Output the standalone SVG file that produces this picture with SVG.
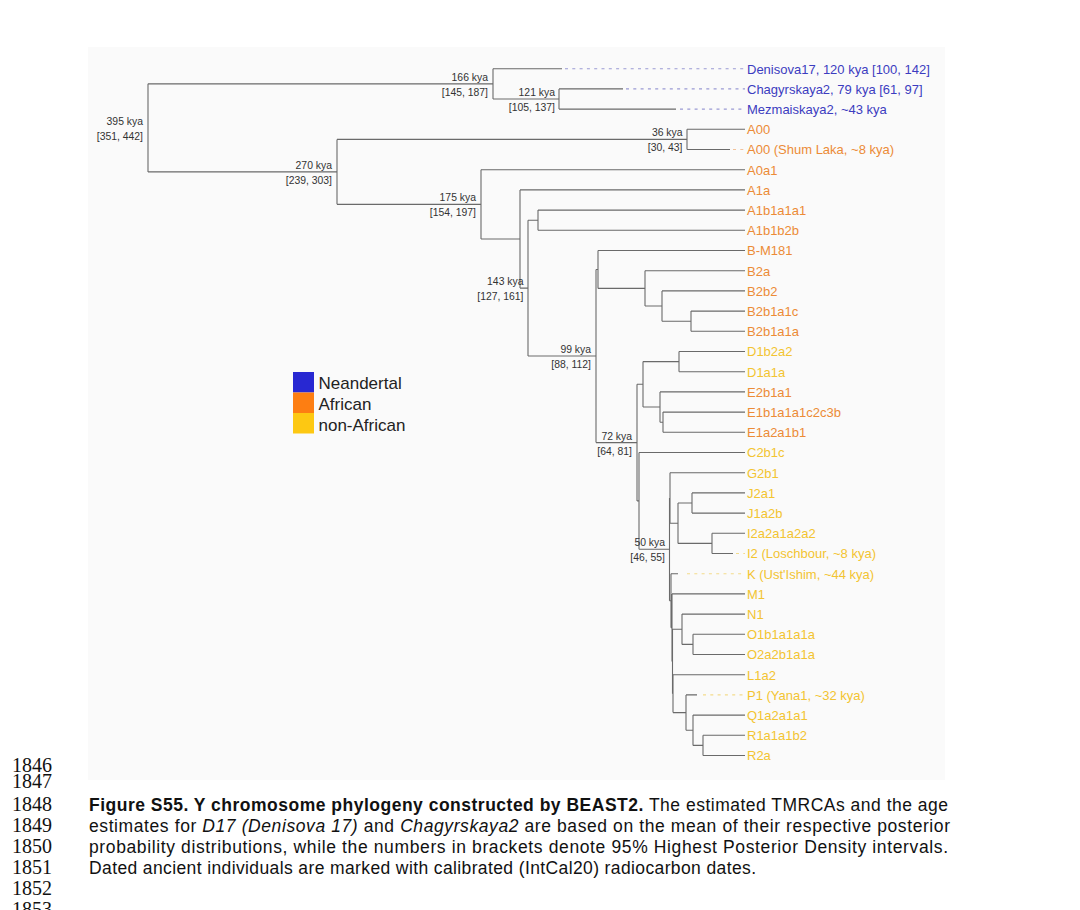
<svg xmlns="http://www.w3.org/2000/svg" width="1080" height="910" viewBox="0 0 1080 910">
<style>
.br{fill:none;stroke:#6a6a6a;stroke-width:1.1}
.dn{fill:none;stroke:#9a9ad4;stroke-width:1.1;stroke-dasharray:3 4.3}
.da{fill:none;stroke:#f2c29a;stroke-width:1.1;stroke-dasharray:3 4.3}
.dy{fill:none;stroke:#f3dc8c;stroke-width:1.1;stroke-dasharray:3 4.3}
.nl{font-family:"Liberation Sans",Arial,sans-serif;font-size:10.4px;fill:#333;text-anchor:end}
.tl{font-family:"Liberation Sans",Arial,sans-serif;font-size:13px}
.ne{fill:#3c3cc0}.af{fill:#ec8b36}.na{fill:#f3c431}
.lg{font-family:"Liberation Sans",Arial,sans-serif;font-size:17px;fill:#222}
.ln{font-family:"Liberation Serif","Times New Roman",serif;font-size:20px;fill:#111}
.cap{font-family:"Liberation Sans",Arial,sans-serif;font-size:17.5px;fill:#111}
</style>
<rect x="0" y="0" width="1080" height="910" fill="#ffffff"/>
<rect x="88" y="47" width="857" height="733" fill="#fafafa"/>

<g id="connectors">
<path class="br" d="M148,83.85V171.9 M148,83.85H493 M148,171.9H337
M493,68.7V99 M493,99H559 M559,88.9V109.1
M337,139.4V204.35 M337,139.4H687 M687,129.3V149.5 M337,204.35H481
M481,169.7V239 M481,239H520 M520,189.9V288.1 M520,288.1H528
M528,220.2V356 M528,220.2H538 M538,210.1V230.3 M528,356H596
M596,269.45V442.6 M596,269.45H598 M598,250.5V288.4 M598,288.4H645
M645,270.7V306.05 M645,306.05H662 M662,290.9V321.2 M662,321.2H691 M691,311.1V331.3
M596,442.6H637 M637,384.3V500.9 M637,384.3H643 M643,361.6V407.05
M643,361.6H679 M679,351.5V371.7 M643,407.05H660 M660,391.9V422.2 M660,422.2H663 M663,412.1V432.3
M637,500.9H639 M639,452.5V549.3 M639,549.3H669.5 M669.5,497.95V600.7
M669.5,497.95H670 M670,472.7V523.2 M670,523.2H678 M678,503V543.4
M678,503H692 M692,492.9V513.1 M678,543.4H712 M712,533.3V553.5
M669.5,600.7H671 M671,573.7V627.7 M671,627.7H672 M672,593.9V661.45
M672,661.45H672.5 M672.5,629.25V693.65 M672.5,629.25H682 M682,614.1V644.4
M682,644.4H693 M693,634.3V654.5 M672.5,693.65H673 M673,674.7V712.6
M673,712.6H686 M686,694.9V730.25 M686,730.25H693 M693,715.1V745.4
M693,745.4H703 M703,735.3V755.5"/>
<path class="br" d="M493,68.7H562 M559,88.9H623 M559,109.1H676
M687,129.3H745 M687,149.5H730 M481,169.7H745 M520,189.9H745
M538,210.1H745 M538,230.3H745 M598,250.5H745 M645,270.7H745
M662,290.9H745 M691,311.1H745 M691,331.3H745 M679,351.5H745
M679,371.7H745 M660,391.9H745 M663,412.1H745 M663,432.3H745
M639,452.5H745 M670,472.7H745 M692,492.9H745 M692,513.1H745
M712,533.3H745 M712,553.5H733 M671,573.7H678 M672,593.9H745
M682,614.1H745 M693,634.3H745 M693,654.5H745 M673,674.7H745
M686,694.9H697 M693,715.1H745 M703,735.3H745 M703,755.5H745"/>
<path class="dn" d="M565,68.7H745 M626,88.9H745 M680,109.1H745"/>
<path class="da" d="M733,149.5H745"/>
<path class="dy" d="M736,553.5H745 M687,573.7H745 M703,694.9H745"/>
</g>

<g id="node-labels">
<g id="n395"><text class="nl" x="143" y="124.9">395 kya</text><text class="nl" x="143" y="139.9">[351, 442]</text></g>
<g id="n166"><text class="nl" x="488" y="80.8">166 kya</text><text class="nl" x="488" y="95.8">[145, 187]</text></g>
<g id="n121"><text class="nl" x="555" y="96">121 kya</text><text class="nl" x="555" y="111">[105, 137]</text></g>
<g id="n36"><text class="nl" x="682.5" y="136.4">36 kya</text><text class="nl" x="682.5" y="151.4">[30, 43]</text></g>
<g id="n270"><text class="nl" x="332" y="168.9">270 kya</text><text class="nl" x="332" y="183.9">[239, 303]</text></g>
<g id="n175"><text class="nl" x="476" y="201.3">175 kya</text><text class="nl" x="476" y="216.3">[154, 197]</text></g>
<g id="n143"><text class="nl" x="523.5" y="285">143 kya</text><text class="nl" x="523.5" y="300">[127, 161]</text></g>
<g id="n99"><text class="nl" x="591" y="353">99 kya</text><text class="nl" x="591" y="368">[88, 112]</text></g>
<g id="n72"><text class="nl" x="632" y="439.6">72 kya</text><text class="nl" x="632" y="454.6">[64, 81]</text></g>
<g id="n50"><text class="nl" x="665" y="546.3">50 kya</text><text class="nl" x="665" y="561.3">[46, 55]</text></g>
</g>

<g id="tips">
<g id="t-denisova17"><text class="tl ne" x="747" y="73.5">Denisova17, 120 kya [100, 142]</text></g>
<g id="t-chagyrskaya2"><text class="tl ne" x="747" y="93.7">Chagyrskaya2, 79 kya [61, 97]</text></g>
<g id="t-mezmaiskaya2"><text class="tl ne" x="747" y="113.9">Mezmaiskaya2, ~43 kya</text></g>
<g id="t-a00"><text class="tl af" x="747" y="134.1">A00</text></g>
<g id="t-a00-shumlaka"><text class="tl af" x="747" y="154.3">A00 (Shum Laka, ~8 kya)</text></g>
<g id="t-a0a1"><text class="tl af" x="747" y="174.5">A0a1</text></g>
<g id="t-a1a"><text class="tl af" x="747" y="194.7">A1a</text></g>
<g id="t-a1b1a1a1"><text class="tl af" x="747" y="214.9">A1b1a1a1</text></g>
<g id="t-a1b1b2b"><text class="tl af" x="747" y="235.1">A1b1b2b</text></g>
<g id="t-bm181"><text class="tl af" x="747" y="255.3">B-M181</text></g>
<g id="t-b2a"><text class="tl af" x="747" y="275.5">B2a</text></g>
<g id="t-b2b2"><text class="tl af" x="747" y="295.7">B2b2</text></g>
<g id="t-b2b1a1c"><text class="tl af" x="747" y="315.9">B2b1a1c</text></g>
<g id="t-b2b1a1a"><text class="tl af" x="747" y="336.1">B2b1a1a</text></g>
<g id="t-d1b2a2"><text class="tl na" x="747" y="356.3">D1b2a2</text></g>
<g id="t-d1a1a"><text class="tl na" x="747" y="376.5">D1a1a</text></g>
<g id="t-e2b1a1"><text class="tl af" x="747" y="396.7">E2b1a1</text></g>
<g id="t-e1b1a1a1c2c3b"><text class="tl af" x="747" y="416.9">E1b1a1a1c2c3b</text></g>
<g id="t-e1a2a1b1"><text class="tl af" x="747" y="437.1">E1a2a1b1</text></g>
<g id="t-c2b1c"><text class="tl na" x="747" y="457.3">C2b1c</text></g>
<g id="t-g2b1"><text class="tl na" x="747" y="477.5">G2b1</text></g>
<g id="t-j2a1"><text class="tl na" x="747" y="497.7">J2a1</text></g>
<g id="t-j1a2b"><text class="tl na" x="747" y="517.9">J1a2b</text></g>
<g id="t-i2a2a1a2a2"><text class="tl na" x="747" y="538.1">I2a2a1a2a2</text></g>
<g id="t-i2-loschbour"><text class="tl na" x="747" y="558.3">I2 (Loschbour, ~8 kya)</text></g>
<g id="t-k-ustishim"><text class="tl na" x="747" y="578.5">K (Ust'Ishim, ~44 kya)</text></g>
<g id="t-m1"><text class="tl na" x="747" y="598.7">M1</text></g>
<g id="t-n1"><text class="tl na" x="747" y="618.9">N1</text></g>
<g id="t-o1b1a1a1a"><text class="tl na" x="747" y="639.1">O1b1a1a1a</text></g>
<g id="t-o2a2b1a1a"><text class="tl na" x="747" y="659.3">O2a2b1a1a</text></g>
<g id="t-l1a2"><text class="tl na" x="747" y="679.5">L1a2</text></g>
<g id="t-p1-yana1"><text class="tl na" x="747" y="699.7">P1 (Yana1, ~32 kya)</text></g>
<g id="t-q1a2a1a1"><text class="tl na" x="747" y="719.9">Q1a2a1a1</text></g>
<g id="t-r1a1a1b2"><text class="tl na" x="747" y="740.1">R1a1a1b2</text></g>
<g id="t-r2a"><text class="tl na" x="747" y="760.3">R2a</text></g>
</g>

<g id="legend">
<rect x="293" y="372" width="21" height="20.5" fill="#2828d2"/>
<rect x="293" y="392.5" width="21" height="20.5" fill="#fd7e12"/>
<rect x="293" y="413" width="21" height="20.5" fill="#fdc812"/>
<text class="lg" x="318.5" y="388.5">Neandertal</text>
<text class="lg" x="318.5" y="409.5">African</text>
<text class="lg" x="318.5" y="431">non-African</text>
</g>

<g id="line-numbers">
<text class="ln" x="12" y="772">1846</text>
<text class="ln" x="12" y="788">1847</text>
<text class="ln" x="12" y="811">1848</text>
<text class="ln" x="12" y="832">1849</text>
<text class="ln" x="12" y="853">1850</text>
<text class="ln" x="12" y="874">1851</text>
<text class="ln" x="12" y="895">1852</text>
<text class="ln" x="12" y="916">1853</text>
</g>

<g id="caption">
<text class="cap" x="89" y="811" textLength="859" lengthAdjust="spacing"><tspan font-weight="bold">Figure S55. Y chromosome phylogeny constructed by BEAST2.</tspan> The estimated TMRCAs and the age</text>
<text class="cap" x="89" y="832" textLength="861" lengthAdjust="spacing">estimates for <tspan font-style="italic">D17 (Denisova 17)</tspan> and <tspan font-style="italic">Chagyrskaya2</tspan> are based on the mean of their respective posterior</text>
<text class="cap" x="89" y="853" textLength="859" lengthAdjust="spacing">probability distributions, while the numbers in brackets denote 95% Highest Posterior Density intervals.</text>
<text class="cap" x="89" y="874" textLength="667" lengthAdjust="spacing">Dated ancient individuals are marked with calibrated (IntCal20) radiocarbon dates.</text>
</g>
</svg>
